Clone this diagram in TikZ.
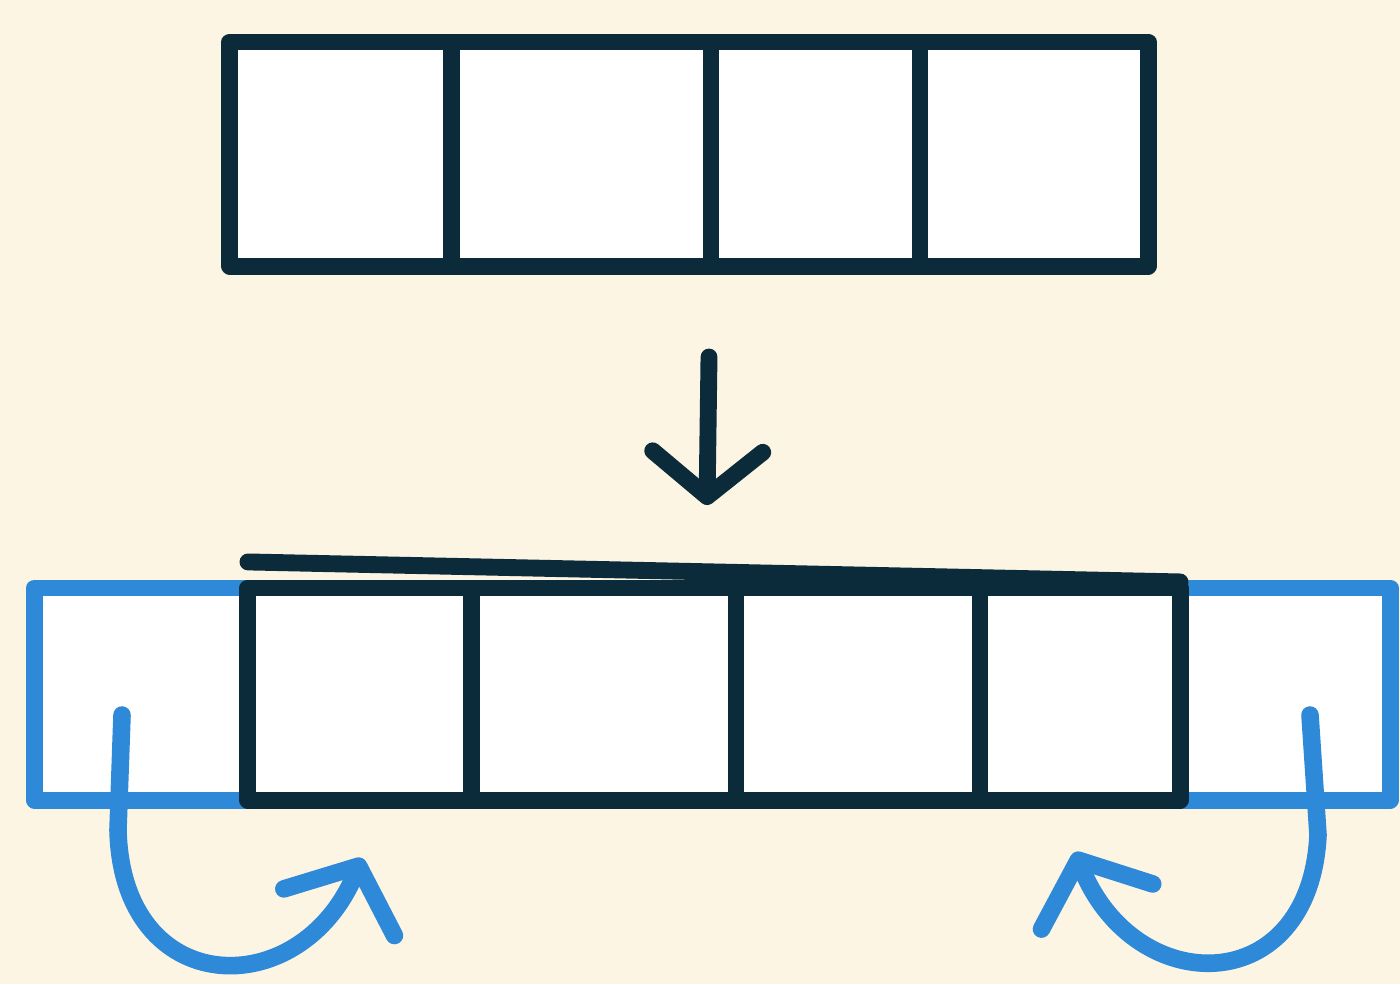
\documentclass[tikz,border=0pt]{standalone}
\usetikzlibrary{arrows.meta}
\definecolor{paper}{HTML}{FDF5E3}
\definecolor{ink}{HTML}{0B2B3A}
\definecolor{pen}{HTML}{2E89D8}

\tikzset{
  cell/.style={rectangle,draw=ink,fill=white,line width=4.8pt,inner sep=0pt,outer sep=0pt},
  padcell/.style={cell,draw=pen},
  wrap/.style={pen,line width=5pt,-{Straight Barb[length=5mm,width=12mm,round]}},
}

\begin{document}
\begin{tikzpicture}[x=0.01cm,y=-0.01cm,line cap=round,line join=round]
  \useasboundingbox[fill=paper] (0,0) rectangle (1400,984);

  % the array before padding
  \foreach \l/\r [count=\i] in {230/452,452/711,711/920,920/1148} {
    \pgfmathsetmacro\w{(\r-\l)/100}
    \node[cell,minimum width=\w cm,minimum height=2.24cm] (t\i) at ({(\l+\r)/2},154) {};
  }

  \coordinate (dn-start) at (709,357);
  \coordinate (dn-end) at (707,505);
  \draw[ink,line width=4.8pt,-{Straight Barb[length=4.5mm,width=11mm,round]}] (dn-start) -- (dn-end);

  % padding cells on both ends
  \node[padcell,minimum width=2.13cm,minimum height=2.12cm] (padl) at (141,694) {};
  \node[padcell,minimum width=2.10cm,minimum height=2.12cm] (padr) at (1285,694) {};

  % the padded array
  \foreach \l/\r [count=\i] in {248/472,472/736,736/980,980/1180} {
    \pgfmathsetmacro\w{(\r-\l)/100}
    \node[cell,minimum width=\w cm,minimum height=2.12cm] (b\i) at ({(\l+\r)/2},694) {};
  }
  \draw[ink,line width=4.8pt] ([yshift=2.6mm]b1.north west) -- ([yshift=0.6mm]b4.north east);

  % copies wrapping round
  \coordinate (wl-start) at (122,715);
  \coordinate (wl-end) at (362,858);
  \draw[wrap] (wl-start) -- (118,830) .. controls (122,1000) and (300,1005) .. (wl-end);
  \coordinate (wr-start) at (1310,715);
  \coordinate (wr-end) at (1075,852);
  \draw[wrap] (wr-start) -- (1318,835) .. controls (1310,1000) and (1135,1000) .. (wr-end);
\end{tikzpicture}
\end{document}
